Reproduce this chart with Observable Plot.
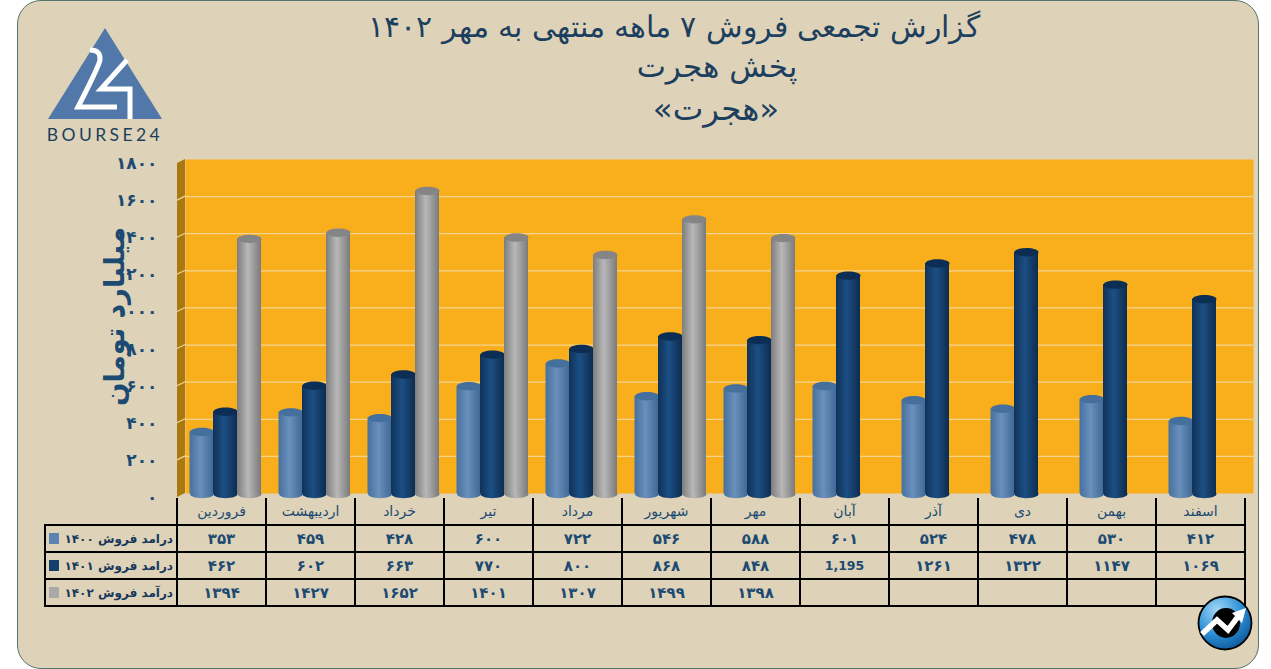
<!DOCTYPE html>
<html lang="fa">
<head>
<meta charset="utf-8">
<script src="https://cdn.jsdelivr.net/npm/d3@7"></script>
<script src="https://cdn.jsdelivr.net/npm/@observablehq/plot@0.6"></script>
<style>
  html,body{margin:0;padding:0;background:#fff;width:1271px;height:669px;overflow:hidden}
  #card{position:absolute;left:17px;top:0;width:1240px;height:667px;background:#DED3B8;border:1.5px solid #55756b;border-radius:24px}
  .abs{position:absolute}
  #titles{left:0;top:0;width:1271px;text-align:center;color:#1d3f5f;font-family:"DejaVu Sans",sans-serif;direction:rtl}
  #titles div{position:absolute;white-space:nowrap;transform:translateX(-50%);left:var(--cx)}
  #chart{left:0;top:140px}
  #chart svg{background:transparent;display:block;overflow:visible}
  table{position:absolute;left:44px;top:498px;border-collapse:collapse;table-layout:fixed;width:1202px;font-family:"DejaVu Sans",sans-serif;font-weight:bold;color:#1d4a72}
  td{border:2px solid #000;padding:0;text-align:center;font-size:15px;overflow:hidden;white-space:nowrap}
  td.first{width:131px;font-size:12px;color:#17385a}
  td.latin{font-size:12.5px}
  tr.head td{border-top:none;font-size:14px;font-weight:normal;height:26px}
  tr.head td.first{border:none;border-bottom:2px solid #000;border-right:2px solid #000}
  tr.r td{height:25px}
  .leg{display:flex;align-items:center;justify-content:space-between;padding:0 3px 0 3px}
  .sw{width:10px;height:11px;display:inline-block;flex:none}
</style>
</head>
<body>
<div id="card"></div>

<svg class="abs" style="left:40px;top:20px" width="135" height="125" viewBox="40 20 135 125">
  <path d="M105 28 L162 119 L48 119 Z" fill="#5178a8"/>
  <path d="M90 50 Q101 50 100 60 Q99 66 78 107 L117 107" fill="none" stroke="#fff" stroke-width="5"/>
  <path d="M127 60 L101 89 L130 89 L130 119" fill="none" stroke="#fff" stroke-width="5"/>
  <text x="105" y="141" text-anchor="middle" font-family="Lato, sans-serif" font-size="17.5" letter-spacing="3.4" fill="#1c3f5e">BOURSE24</text>
</svg>

<div id="titles" class="abs">
  <div id="t1" style="--cx:674px;top:10px;font-size:29.5px;font-weight:200"></div>
  <div id="t2" style="--cx:717px;top:48px;font-size:31px"></div>
  <div id="t3" style="--cx:716px;top:90px;font-size:32.5px"></div>
</div>

<div id="chart" class="abs"></div>
<table id="tbl"></table>

<svg class="abs" style="left:1195px;top:593px" width="60" height="60" viewBox="1195 593 60 60">
  <defs>
    <radialGradient id="iconBlue" cx="35%" cy="25%" r="85%">
      <stop offset="0" stop-color="#9fd6f5"/><stop offset=".55" stop-color="#2a8fd6"/><stop offset="1" stop-color="#0b4f8f"/>
    </radialGradient>
  </defs>
  <circle cx="1225" cy="623" r="26.5" fill="url(#iconBlue)" stroke="#000" stroke-width="1.8"/>
  <ellipse cx="1226" cy="623" rx="14" ry="15" fill="#000"/>
  <path d="M1202 634 L1217 620 L1228 630 L1240 614" fill="none" stroke="#fff" stroke-width="5.5"/>
  <path d="M1246 608 L1242 623 L1232 613 Z" fill="#fff"/>
</svg>

<svg width="0" height="0" style="position:absolute">
  <defs>
    <linearGradient id="body0"><stop offset="0" stop-color="#46709f"/><stop offset=".45" stop-color="#6a90bb"/><stop offset="1" stop-color="#406894"/></linearGradient>
    <linearGradient id="body1"><stop offset="0" stop-color="#0f3259"/><stop offset=".45" stop-color="#1c4f84"/><stop offset="1" stop-color="#0d2c50"/></linearGradient>
    <linearGradient id="body2"><stop offset="0" stop-color="#7d7d7d"/><stop offset=".45" stop-color="#b8b8b8"/><stop offset="1" stop-color="#7a7a7a"/></linearGradient>
  </defs>
</svg>

<script>
const months = ["فروردین","اردیبهشت","خرداد","تیر","مرداد","شهریور","مهر","آبان","آذر","دی","بهمن","اسفند"];
const sales1400 = [353,459,428,600,722,546,588,601,524,478,530,412];
const sales1401 = [462,602,663,770,800,868,848,1195,1261,1322,1147,1069];
const sales1402 = [1394,1427,1652,1401,1307,1499,1398];
const seriesLabels = ["درامد فروش ۱۴۰۰","درامد فروش ۱۴۰۱","درآمد فروش ۱۴۰۲"];
const yTicks = [0,200,400,600,800,1000,1200,1400,1600,1800];
const gridTicks = [200,400,600,800,1000,1200,1400,1600];
const titleLines = ["گزارش تجمعی فروش ۷ ماهه منتهی به مهر ۱۴۰۲","پخش هجرت","«هجرت»"];
const yTitle = "میلیارد تومان";

const series = [sales1400, sales1401, sales1402];
const swatches = ["#5b84b3","#123f6e","#a9a9a9"];
const topFills = ["#456f9d","#0d2e54","#858585"];
const fa = v => String(v).replace(/\d/g, d => "۰۱۲۳۴۵۶۷۸۹"[d]);

titleLines.forEach((t,i)=>{document.getElementById("t"+(i+1)).textContent=t;});

// flattened elliptical cap used for the top and bottom of each cylinder
const cap = {draw(c){const a=12,b=4.2,k=.5523;
  c.moveTo(a,0);c.bezierCurveTo(a,k*b,k*a,b,0,b);c.bezierCurveTo(-k*a,b,-a,k*b,-a,0);
  c.bezierCurveTo(-a,-k*b,-k*a,-b,0,-b);c.bezierCurveTo(k*a,-b,a,-k*b,a,0);c.closePath();}};

const band = 89, barW = 24, offsets = [-20,3.5,27.5];
const barMarks = series.flatMap((vals,i)=>{
  const rows = vals.map((v,j)=>({month:months[j],value:v}));
  const insetLeft = band/2+offsets[i]-barW/2;
  const insetRight = band-insetLeft-barW;
  return [
    Plot.dot(rows,{x:"month",y:()=>0,dx:offsets[i],dy:-3.5,symbol:cap,fill:`url(#body${i})`}),
    Plot.barY(rows,{x:"month",y1:()=>20,y2:"value",insetLeft,insetRight,fill:`url(#body${i})`}),
    Plot.dot(rows,{x:"month",y:"value",dx:offsets[i],symbol:cap,fill:topFills[i]})
  ];
});

const sideWall = (index,{y},values,{marginLeft})=>{
  const g = d3.create("svg:g");
  const L = marginLeft, d = 8, r = 4;
  g.append("path").attr("fill","#A9780F")
    .attr("d",`M${L} ${y(0)}L${L} ${y(1800)}L${L+d} ${y(1800)-r}L${L+d} ${y(0)-r}Z`);
  for (const v of gridTicks) g.append("line").attr("stroke","#f3d590").attr("stroke-width",1.2)
    .attr("x1",L).attr("y1",y(v)).attr("x2",L+d).attr("y2",y(v)-r);
  return g.node();
};

const plot = Plot.plot({
  width:1271,height:370,
  marginTop:23,marginBottom:13,marginLeft:177,marginRight:26,
  style:{background:"transparent",overflow:"visible"},
  x:{type:"band",domain:months,padding:0,axis:null},
  y:{domain:[0,1800],axis:null},
  marks:[
    Plot.frame({fill:"#F9AE1C",stroke:null,dx:8,dy:-4}),
    sideWall,
    Plot.ruleY(gridTicks,{stroke:"#f3d590",strokeWidth:1.2,dx:8,dy:-4}),
    ...barMarks,
    Plot.axisY({ticks:yTicks,tickFormat:fa,tickSize:0,tickPadding:20,label:null,
      fontSize:17,fontWeight:"bold",fill:"#1d4a72",fontFamily:"DejaVu Sans",marginLeft:177}),
    Plot.text([yTitle],{frameAnchor:"left",textAnchor:"middle",rotate:-90,dx:-62,dy:-14,fontSize:27.5,fontWeight:"bold",
      fill:"#1d4a72",fontFamily:"DejaVu Sans"})
  ]
});
document.getElementById("chart").append(plot);

// data table under the chart
const tbl = d3.select("#tbl");
const head = tbl.append("tr").attr("class","head");
head.append("td").attr("class","first");
months.forEach(m=>head.append("td").text(m));
series.forEach((vals,i)=>{
  const tr = tbl.append("tr").attr("class","r");
  const lg = tr.append("td").attr("class","first").append("div").attr("class","leg");
  lg.append("span").attr("class","sw").style("background",swatches[i]);
  lg.append("span").attr("dir","rtl").text(seriesLabels[i]);
  months.forEach((m,j)=>{
    const v = vals[j];
    tr.append("td").classed("latin",v===1195).text(v===undefined?"":(v===1195?"1,195":fa(v)));
  });
});
</script>
</body>
</html>
